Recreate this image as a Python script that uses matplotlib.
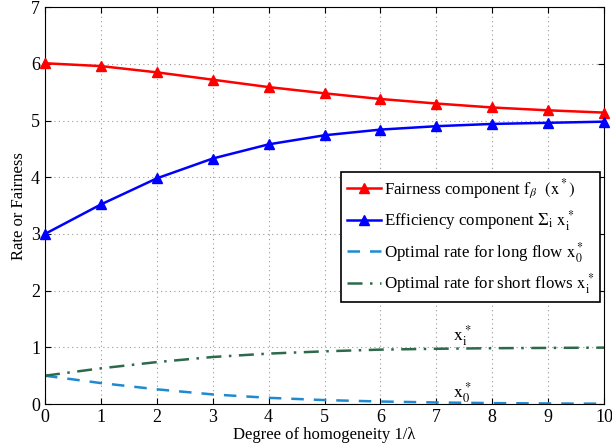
import numpy as np
import matplotlib
matplotlib.use("Agg")
from matplotlib import pyplot as plt

# degree of homogeneity 1/lambda
x = np.arange(0, 11)
# fairness and efficiency components
fairness = [6.01, 5.96, 5.85, 5.72, 5.59, 5.48, 5.38, 5.30, 5.23, 5.18, 5.14]
efficiency = [3.00, 3.52, 3.98, 4.33, 4.58, 4.74, 4.84, 4.90, 4.94, 4.96, 4.98]
# optimal rates
x_long = [0.50, 0.37, 0.26, 0.17, 0.11, 0.07, 0.045, 0.028, 0.017, 0.010, 0.006]
x_short = [0.50, 0.63, 0.74, 0.83, 0.89, 0.93, 0.96, 0.975, 0.985, 0.99, 0.995]

plt.rcParams['font.family'] = ['Liberation Serif', 'DejaVu Serif']
plt.rcParams['mathtext.fontset'] = 'stix'

fig = plt.figure(figsize=(6.12, 4.45), dpi=100)
ax = fig.add_axes([0.0735, 0.092, 0.9135, 0.892])

ax.plot(x, fairness, '-^', color='red', lw=1.8, ms=7.5, clip_on=False, zorder=3,
        label=r'Fairness component $\mathrm{f}_{\beta}\ \ (\mathrm{x}^*)$')
ax.plot(x, efficiency, '-^', color='blue', lw=1.8, ms=7.5, clip_on=False, zorder=3,
        label=r'Efficiency component $\Sigma_{\mathrm{i}}\ \mathrm{x}_{\mathrm{i}}^*$')
ax.plot(x, x_long, '--', color='#1f8ad0', lw=1.8, dashes=(5, 4),
        label=r'Optimal rate for long flow $\mathrm{x}_0^*$')
ax.plot(x, x_short, '-.', color='#2d6a4a', lw=1.8, dashes=(6, 3, 1, 3),
        label=r'Optimal rate for short flows $\mathrm{x}_{\mathrm{i}}^*$')

ax.text(7.3, 1.12, r'$\mathrm{x}_{\mathrm{i}}^*$', fontsize=13)
ax.text(7.3, 0.12, r'$\mathrm{x}_0^*$', fontsize=13)

ax.set_xlim(0, 10)
ax.set_ylim(0, 7)
ax.set_xticks(range(0, 11))
ax.set_yticks(range(0, 8))
ax.grid(True, linestyle=(0, (1, 3)), color='#999999', lw=0.8)
ax.tick_params(direction='in', top=True, right=True, labelsize=13, length=4)
ax.set_xlabel('Degree of homogeneity 1/λ', fontsize=12, labelpad=1)
ax.set_ylabel('Rate or Fairness', fontsize=12, labelpad=3)

leg = ax.legend(loc='upper right', bbox_to_anchor=(0.993, 0.585), fontsize=12.2,
                fancybox=False, framealpha=1, edgecolor='black',
                handlelength=2.0, handletextpad=0.2, borderpad=0.35,
                labelspacing=0.4, borderaxespad=0)
leg.get_frame().set_linewidth(1.2)

fig.savefig('out.png', dpi=100)
